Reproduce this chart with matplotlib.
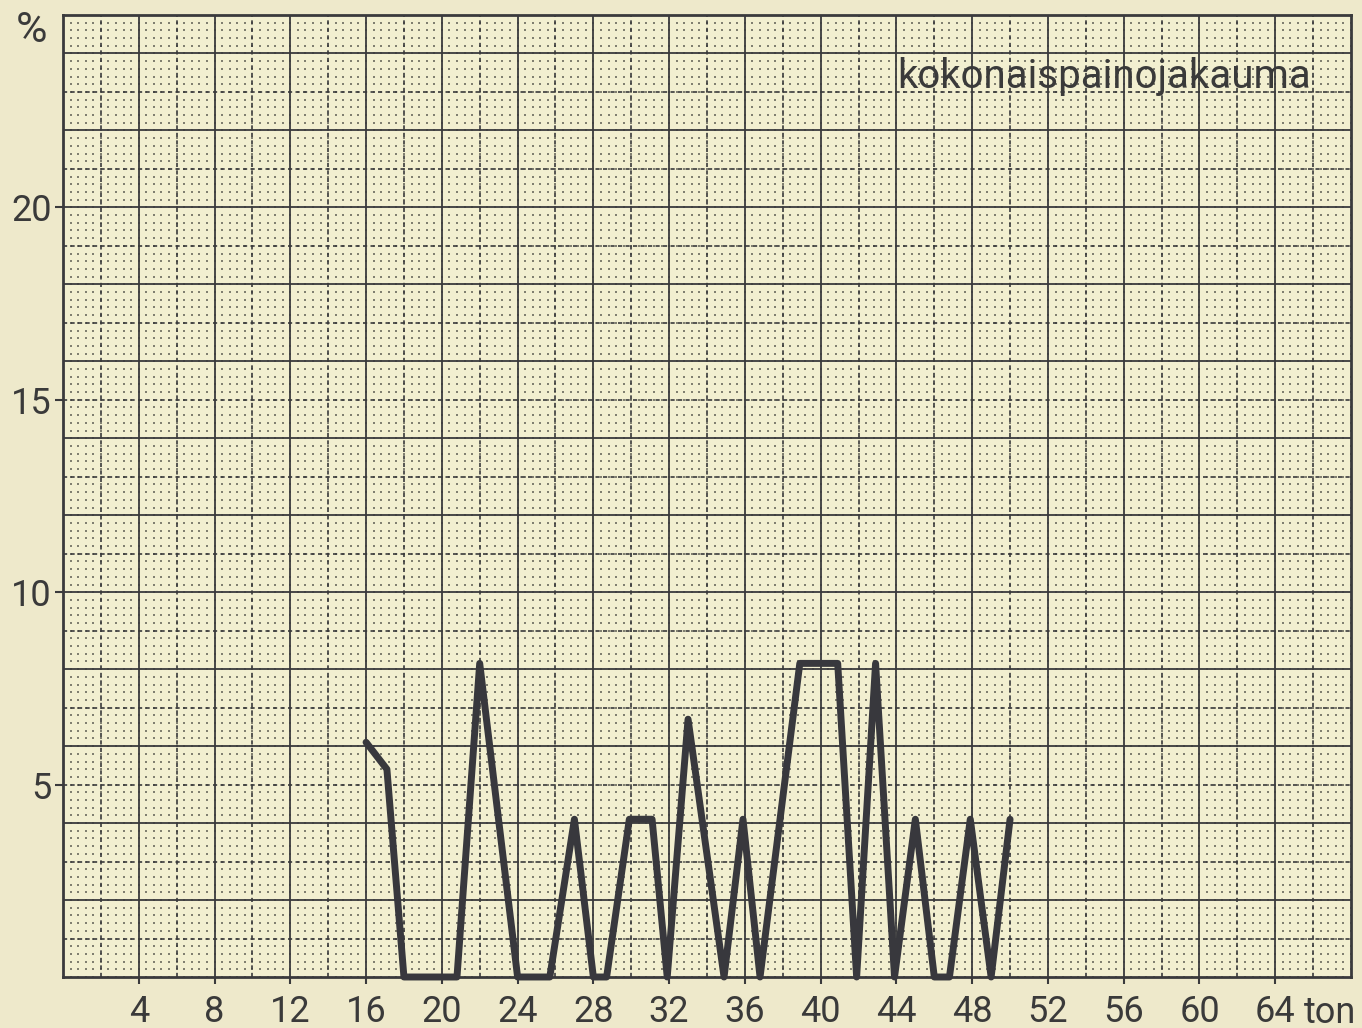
import matplotlib
matplotlib.use("Agg")
import matplotlib.pyplot as plt
import numpy as np

# total weight distribution, % of vehicles per weight class (ton)
weight_ton = [16, 17.1, 18, 20.8, 22, 24, 25.7, 27, 28, 28.7, 29.9, 31.1, 31.9,
              33, 34.9, 35.9, 36.8, 38.9, 40.9, 41.9, 42.9, 43.9, 45, 46, 46.8,
              47.9, 49, 50]
share_pct = [6.1, 5.4, 0, 0, 8.15, 0, 0, 4.1, 0, 0, 4.1, 4.1, 0,
             6.7, 0, 4.1, 0, 8.15, 8.15, 0, 8.15, 0, 4.1, 0, 0,
             4.1, 0, 4.1]

x_ticks = [4, 8, 12, 16, 20, 24, 28, 32, 36, 40, 44, 48, 52, 56, 60, 64]
y_ticks = [5, 10, 15, 20]
title = "kokonaispainojakauma"

PAPER = "#f2efd0"
INK = "#3a3a3c"
LINE = "#38383d"
TEXT = "#3a3a3a"

plt.rcParams["font.family"] = ["Roboto", "DejaVu Sans"]

fig = plt.figure(figsize=(13.62, 10.28), dpi=100, facecolor="#eee9cb")
ax = fig.add_axes([63 / 1362, 51 / 1028, 1288 / 1362, 962 / 1028])
ax.set_facecolor(PAPER)
ax.set_xlim(0, 68)
ax.set_ylim(0, 25)

# graph paper: fine dots, dashed half lines, solid main lines
dx, dy = np.meshgrid(np.arange(0, 68.01, 0.4), np.arange(0, 25.01, 0.2))
ax.scatter(dx.ravel(), dy.ravel(), s=1.6, marker="s", color="#5a5a50",
           linewidths=0, alpha=0.75, zorder=1)
for xv in np.arange(2, 68, 4):
    ax.axvline(xv, color=INK, lw=1.2, ls=(0, (2.5, 2)), zorder=2)
for xv in np.arange(4, 68, 4):
    ax.axvline(xv, color=INK, lw=1.3, zorder=2)
for yv in np.arange(1, 25, 2):
    ax.axhline(yv, color=INK, lw=1.2, ls=(0, (2.5, 2)), zorder=2)
for yv in np.arange(2, 25, 2):
    ax.axhline(yv, color=INK, lw=1.3, zorder=2)

ax.plot(weight_ton, share_pct, color=LINE, lw=5, solid_joinstyle="round",
        solid_capstyle="round", zorder=5, clip_on=False)

for s in ax.spines.values():
    s.set_color(INK)
    s.set_linewidth(2)

ax.set_xticks(x_ticks)
ax.set_xticklabels([str(v) for v in x_ticks])
ax.set_yticks(y_ticks)
ax.set_yticklabels([str(v) for v in y_ticks])
ax.tick_params(axis="x", length=5, width=1.5, color=INK, pad=7,
               labelsize=26, labelcolor=TEXT)
ax.tick_params(axis="y", length=6, width=1.5, color=INK, pad=2,
               labelsize=26, labelcolor=TEXT)

ax.text(66.9, -0.037, "ton", transform=ax.get_xaxis_transform(),
        ha="center", va="center", fontsize=26, color=TEXT)
fig.text(32 / 1362, 1 - 31 / 1028, "%", ha="center", va="center",
         fontsize=31, color=TEXT)
ax.text(65.9, 23.4, title, ha="right", va="center", fontsize=29,
        color=TEXT, zorder=6)

fig.savefig("out.png", dpi=100, facecolor=fig.get_facecolor())
